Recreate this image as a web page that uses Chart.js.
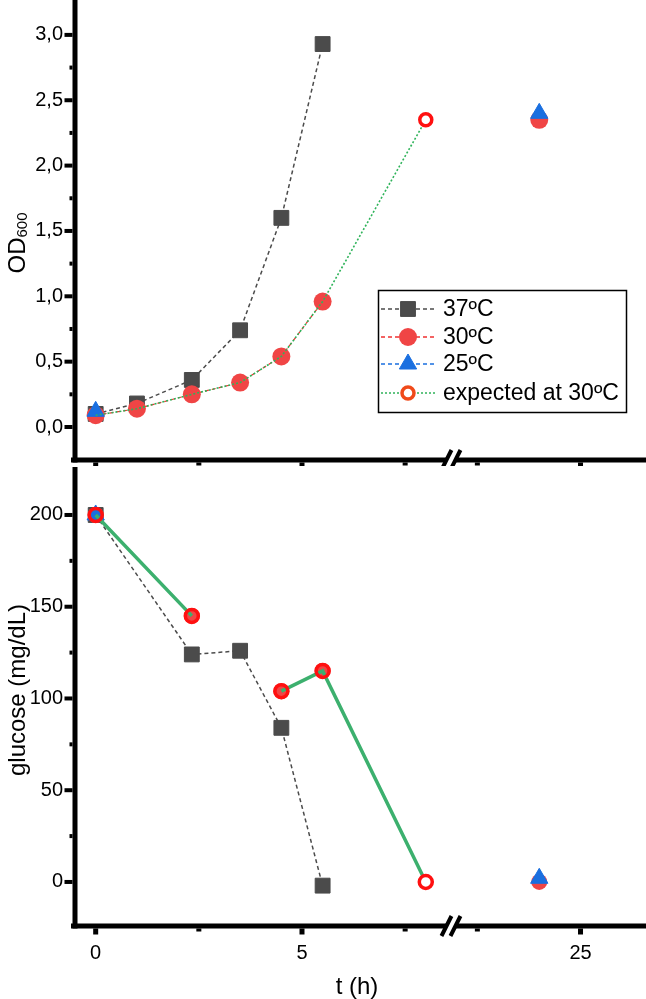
<!DOCTYPE html>
<html>
<head>
<meta charset="utf-8">
<script src="https://cdn.jsdelivr.net/npm/chart.js@4.4.0/dist/chart.umd.min.js"></script>
<style>
  body { margin: 0; background: #fff; }
  #wrap { position: relative; width: 646px; height: 999px; }
  canvas { position: absolute; left: 0; }
  #top { top: 0; }
  #bot { top: 466px; }
</style>
</head>
<body>
<div id="wrap">
  <canvas id="top" width="646" height="466"></canvas>
  <canvas id="bot" width="646" height="533"></canvas>
</div>
<script>
// ---- data (time in hours) ----
const tOD = [0, 1, 2.33, 3.5, 4.5, 5.5];
const od37 = [0.10, 0.18, 0.36, 0.74, 1.60, 2.93];
const od30 = [0.09, 0.14, 0.25, 0.34, 0.54, 0.96];
const tLate = 24;
const od30Late = 2.35;
const t25 = [0, 24];
const od25 = [0.12, 2.40];
const tExpected = 8;
const odExpected = 2.35;

const tGlu37 = [0, 2.33, 3.5, 4.5, 5.5];
const glu37 = [200, 124, 126, 84, -2];
const tGlu30 = [0, 2.33, 4.5, 5.5, 24];
const glu30 = [200, 145, 104, 115, 0];
const glu25 = [200, 2];
const tGluExp = [0, 2.33, 3.5, 4.5, 5.5, 8];
const gluExp = [200, 145, null, 104, 115, 0];

const xTickT = [0, 2.5, 5, 7.5, 22.5, 25];
const xTickLabels = ['0', '', '5', '', '', '25'];
const odTicks = [0, 0.25, 0.5, 0.75, 1, 1.25, 1.5, 1.75, 2, 2.25, 2.5, 2.75, 3];
const odTickLabels = ['0,0', '', '0,5', '', '1,0', '', '1,5', '', '2,0', '', '2,5', '', '3,0'];
const gluTicks = [0, 25, 50, 75, 100, 125, 150, 175, 200];
const gluTickLabels = ['0', '', '50', '', '100', '', '150', '', '200'];

// ---- broken x axis: the late segment is shifted left ----
const SHIFT = 13.25;
const BREAK_AT = 8.61;
const X_MIN = -0.477, X_MAX = 13.337;
const toAxis = t => (t > 15 ? t - SHIFT : t);
const pts = (xs, ys) => xs.map((t, i) => ({ x: toAxis(t), y: ys[i] }));

const FONT = '"Liberation Sans", Arial, sans-serif';
const GREY = '#4b4b4b', RED = '#f04545', BLUE = '#1a6fe0', GREEN = '#3cb06e', RING = '#ff1010';

function xScale(h, showLabels) {
  return {
    type: 'linear', min: X_MIN, max: X_MAX,
    afterBuildTicks: s => { s.ticks = xTickT.map(t => ({ value: toAxis(t) })); },
    afterFit: s => { s.height = h; s.paddingLeft = 0; s.paddingRight = 0; },
    grid: { display: false, drawTicks: false },
    border: { display: false },
    ticks: {
      display: showLabels, autoSkip: false, maxRotation: 0, padding: 15,
      color: '#000', font: { family: FONT, size: 20 },
      callback: (v, i) => xTickLabels[i]
    }
  };
}

function yScale(min, max, ticks, labels) {
  return {
    min, max,
    afterBuildTicks: s => { s.ticks = ticks.map(v => ({ value: v })); },
    afterFit: s => { s.width = 76; s.paddingTop = 0; s.paddingBottom = 0; },
    grid: { display: false, drawTicks: false },
    border: { display: false },
    ticks: {
      autoSkip: false, padding: 13, color: '#000', font: { family: FONT, size: 20 },
      callback: (v, i) => labels[i]
    }
  };
}

function marker(ctx, style, x, y, r, fill, stroke, bw) {
  ctx.save();
  ctx.fillStyle = fill; ctx.strokeStyle = stroke; ctx.lineWidth = bw;
  ctx.setLineDash([]);
  ctx.beginPath();
  if (style === 'rect') {
    const s = r * Math.SQRT1_2;
    ctx.rect(x - s, y - s, 2 * s, 2 * s);
  } else if (style === 'triangle') {
    for (let k = 0; k < 3; k++) {
      const a = k * 2 * Math.PI / 3;
      const px = x + Math.sin(a) * r, py = y - Math.cos(a) * r;
      k ? ctx.lineTo(px, py) : ctx.moveTo(px, py);
    }
    ctx.closePath();
  } else {
    ctx.arc(x, y, r, 0, 2 * Math.PI);
  }
  if (fill) ctx.fill();
  if (bw) ctx.stroke();
  ctx.restore();
}

// axes, ticks, break marks, titles, legend
function framePlugin(cfg) {
  return {
    id: 'frame',
    afterDraw(chart) {
      const { ctx, chartArea: a, scales: { x, y } } = chart;
      ctx.save();
      ctx.fillStyle = '#000';
      ctx.fillRect(a.left - 3.5, cfg.yAxisTop, 5, a.bottom + 2.5 - cfg.yAxisTop);
      ctx.fillRect(71, a.bottom - 2.5, 646 - 71, 5);
      cfg.yTicks.forEach((v, i) => {
        const py = y.getPixelForValue(v);
        const len = cfg.yLabels[i] ? 8 : 3;
        ctx.fillRect(a.left - 3.5 - len, py - 2, len, 4);
      });
      xTickT.forEach((t, i) => {
        const px = x.getPixelForValue(toAxis(t));
        const len = xTickLabels[i] ? 6 : 3;
        ctx.fillRect(px - 2.5, a.bottom + 2.5, 5, len);
      });
      // break
      const bx = x.getPixelForValue(BREAK_AT);
      ctx.translate(bx, a.bottom);
      ctx.lineCap = 'butt';
      ctx.strokeStyle = '#fff'; ctx.lineWidth = 6;
      ctx.beginPath(); ctx.moveTo(-5, 11); ctx.lineTo(5, -11); ctx.stroke();
      ctx.strokeStyle = '#000'; ctx.lineWidth = 4;
      [-4.5, 4.5].forEach(o => {
        ctx.beginPath(); ctx.moveTo(o - 5, 10); ctx.lineTo(o + 5, -10); ctx.stroke();
      });
      ctx.restore();

      // y title
      ctx.save();
      ctx.fillStyle = '#000';
      ctx.translate(cfg.yTitleX, cfg.yTitleY);
      ctx.rotate(-Math.PI / 2);
      ctx.textBaseline = 'alphabetic';
      ctx.font = '24px ' + FONT;
      const w1 = ctx.measureText(cfg.yTitle).width;
      let w2 = 0;
      if (cfg.ySub) { ctx.font = '15px ' + FONT; w2 = ctx.measureText(cfg.ySub).width; }
      const x0 = -(w1 + w2) / 2;
      ctx.font = '24px ' + FONT;
      ctx.fillText(cfg.yTitle, x0, 8.5);
      if (cfg.ySub) { ctx.font = '15px ' + FONT; ctx.fillText(cfg.ySub, x0 + w1, 10.5); }
      ctx.restore();

      if (cfg.xTitle) {
        ctx.save();
        ctx.fillStyle = '#000';
        ctx.font = '24px ' + FONT;
        ctx.textAlign = 'center'; ctx.textBaseline = 'middle';
        ctx.fillText(cfg.xTitle, 357, cfg.xTitleY);
        ctx.restore();
      }

      if (cfg.legend) {
        ctx.save();
        ctx.strokeStyle = '#000'; ctx.lineWidth = 1.5;
        ctx.strokeRect(378.5, 290.5, 248, 122);
        const rows = [309, 337, 364, 393];
        chart.data.datasets.slice().sort((p, q) => p.legendRank - q.legendRank).forEach((ds, i) => {
          const ry = rows[i];
          ctx.save();
          ctx.strokeStyle = ds.borderColor; ctx.lineWidth = 1.5;
          ctx.setLineDash(ds.borderDash || []);
          ctx.beginPath(); ctx.moveTo(381, ry); ctx.lineTo(437, ry); ctx.stroke();
          ctx.restore();
          const m = ds.legendMarker;
          marker(ctx, m.style, 408, ry, m.r, m.fill, m.stroke, m.bw);
          ctx.fillStyle = '#000';
          ctx.font = '23px ' + FONT;
          ctx.textBaseline = 'middle';
          ctx.fillText(ds.label, 443, ry + 1);
        });
        ctx.restore();
      }
    }
  };
}

const common = {
  responsive: false, animation: false, devicePixelRatio: 1,
  plugins: { legend: { display: false }, tooltip: { enabled: false } }
};

// ---- top panel: OD600 ----
new Chart(document.getElementById('top'), {
  type: 'scatter',
  data: {
    datasets: [
      {
        label: '37ºC', legendRank: 0, order: 3,
        data: pts(tOD, od37), showLine: true,
        borderColor: GREY, borderWidth: 1.5, borderDash: [4, 3],
        pointStyle: 'rect', pointRadius: 10.5, pointBackgroundColor: GREY, pointBorderColor: GREY, pointBorderWidth: 1,
        legendMarker: { style: 'rect', r: 10.5, fill: GREY, stroke: GREY, bw: 1 }
      },
      {
        label: '30ºC', legendRank: 1, order: 2,
        data: pts(tOD, od30).concat([{ x: null, y: null }], pts([tLate], [od30Late])),
        showLine: true, spanGaps: false,
        borderColor: '#f03030', borderWidth: 1.2, borderDash: [4, 3],
        pointStyle: 'circle', pointRadius: 9, pointBackgroundColor: RED, pointBorderColor: RED, pointBorderWidth: 0,
        legendMarker: { style: 'circle', r: 9, fill: RED, stroke: RED, bw: 0 }
      },
      {
        label: '25ºC', legendRank: 2, order: 1,
        data: pts(t25, od25), showLine: false,
        borderColor: BLUE, borderWidth: 1.2, borderDash: [4, 3],
        pointStyle: 'triangle', pointRadius: 10, pointBackgroundColor: BLUE, pointBorderColor: BLUE, pointBorderWidth: 1,
        legendMarker: { style: 'triangle', r: 10, fill: BLUE, stroke: BLUE, bw: 1 }
      },
      {
        label: 'expected at 30ºC', legendRank: 3, order: 0,
        data: pts(tOD.concat([tExpected]), od30.concat([odExpected])), showLine: true,
        borderColor: '#2fb35a', borderWidth: 1.6, borderDash: [2, 2],
        pointStyle: 'circle',
        pointRadius: [0, 0, 0, 0, 0, 0, 6],
        pointBackgroundColor: '#fff', pointBorderColor: RING, pointBorderWidth: 3.5,
        legendMarker: { style: 'circle', r: 6, fill: '#fff', stroke: '#f04a1a', bw: 3.5 }
      }
    ]
  },
  options: {
    ...common,
    layout: { padding: 0, autoPadding: false },
    scales: {
      x: xScale(6, false),
      y: yScale(-0.2525, 3.267, odTicks, odTickLabels)
    }
  },
  plugins: [framePlugin({
    yAxisTop: 0, yTicks: odTicks, yLabels: odTickLabels,
    yTitle: 'OD', ySub: '600', yTitleX: 16, yTitleY: 243, legend: true
  })]
});

// ---- bottom panel: glucose ----
new Chart(document.getElementById('bot'), {
  type: 'scatter',
  data: {
    datasets: [
      {
        label: '37ºC', order: 3,
        data: pts(tGlu37, glu37), showLine: true,
        borderColor: GREY, borderWidth: 1.5, borderDash: [4, 3],
        pointStyle: 'rect', pointRadius: 10.5, pointBackgroundColor: GREY, pointBorderColor: GREY, pointBorderWidth: 1
      },
      {
        label: '30ºC', order: 2,
        data: pts(tGlu30, glu30), showLine: false,
        pointStyle: 'circle', pointRadius: 8, pointBackgroundColor: RED, pointBorderColor: RED, pointBorderWidth: 0
      },
      {
        label: '25ºC', order: 1,
        data: pts(t25, glu25), showLine: false,
        pointStyle: 'triangle', pointRadius: 10, pointBackgroundColor: BLUE, pointBorderColor: BLUE, pointBorderWidth: 1
      },
      {
        label: 'expected at 30ºC', order: 0,
        data: pts(tGluExp, gluExp), showLine: true, spanGaps: false,
        borderColor: GREEN, borderWidth: 3.5,
        pointStyle: 'circle', pointRadius: 6.5,
        pointBackgroundColor: ['rgba(0,0,0,0)', 'rgba(0,0,0,0)', 'rgba(0,0,0,0)', 'rgba(0,0,0,0)', 'rgba(0,0,0,0)', '#fff'],
        pointBorderColor: RING, pointBorderWidth: 3.5
      }
    ]
  },
  options: {
    ...common,
    layout: { padding: { top: 2 }, autoPadding: false },
    scales: {
      x: xScale(73, true),
      y: yScale(-24, 225.6, gluTicks, gluTickLabels)
    }
  },
  plugins: [framePlugin({
    yAxisTop: 1, yTicks: gluTicks, yLabels: gluTickLabels,
    yTitle: 'glucose (mg/dL)', yTitleX: 16, yTitleY: 224,
    xTitle: 't (h)', xTitleY: 521
  })]
});
</script>
</body>
</html>
